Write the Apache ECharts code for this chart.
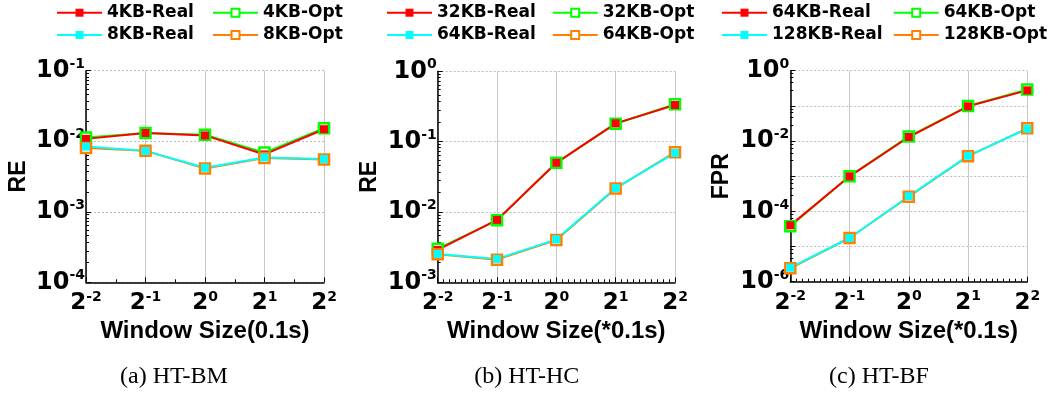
<!DOCTYPE html>
<html><head><meta charset="utf-8">
<script src="https://cdn.jsdelivr.net/npm/echarts@6/dist/echarts.min.js"></script>
<style>html,body{margin:0;padding:0;background:#fff}#c{width:1051px;height:393px}</style>
</head><body><div id="c"></div>
<script>
// x positions: exponent of 2 for window size
const windowExp = [-2, -1, 0, 1, 2];

// (a) HT-BM
const a4Real = [0.0108, 0.0131, 0.0121, 0.0065, 0.0148];
const a4Opt  = [0.0113, 0.0131, 0.0124, 0.0069, 0.0153];
const a8Real = [0.0084, 0.0073, 0.0042, 0.0059, 0.0056];
const a8Opt  = [0.0080, 0.0073, 0.0041, 0.0058, 0.0055];
// (b) HT-HC
const b32Real = [0.0029, 0.0077, 0.050, 0.182, 0.332];
const b32Opt  = [0.0030, 0.0076, 0.050, 0.180, 0.340];
const b64Real = [0.00253, 0.00215, 0.00408, 0.0219, 0.069];
const b64Opt  = [0.0025, 0.0021, 0.0040, 0.0216, 0.0707];
// (c) HT-BF
const c64Real  = [4.0e-5, 9.9e-4, 0.013, 0.097, 0.276];
const c64Opt   = [3.8e-5, 1.0e-3, 0.0135, 0.099, 0.294];
const c128Real = [2.5e-6, 1.75e-5, 2.7e-4, 0.0038, 0.0224];
const c128Opt  = [2.4e-6, 1.75e-5, 2.6e-4, 0.0037, 0.023];

const captions = ['(a) HT-BM', '(b) HT-HC', '(c) HT-BF'];
const yNames = ['RE', 'RE', 'FPR'];
const xNames = ['Window Size(0.1s)', 'Window Size(*0.1s)', 'Window Size(*0.1s)'];
const yMin = [1e-4, 1e-3, 1e-6];
const yMax = [1e-1, 1, 1];

const panels = [
  { key: 'a', real1: ['4KB-Real', a4Real], opt1: ['4KB-Opt', a4Opt], real2: ['8KB-Real', a8Real], opt2: ['8KB-Opt', a8Opt] },
  { key: 'b', real1: ['32KB-Real', b32Real], opt1: ['32KB-Opt', b32Opt], real2: ['64KB-Real', b64Real], opt2: ['64KB-Opt', b64Opt] },
  { key: 'c', real1: ['64KB-Real', c64Real], opt1: ['64KB-Opt', c64Opt], real2: ['128KB-Real', c128Real], opt2: ['128KB-Opt', c128Opt] }
];

// layout
const grids = [
  { left: 86, top: 70.7, width: 238, height: 211.6 },
  { left: 437.7, top: 71.3, width: 237.3, height: 211 },
  { left: 790.3, top: 70.7, width: 237, height: 211 }
];
const legendLeft = [[56, 212], [386, 551.7], [721, 892.7]];
const captionX = [174, 526.7, 879];
const yNameGap = [56, 57, 57];
const xMinorSplit = [2, 10, 10];
const yMinorSplit = [10, 10, 5];

const RED = '#ff0000', GREEN = '#00ff00', CYAN = '#00ffff', ORANGE = '#ff8000';
const TICKFONT = 'DejaVu Sans';
const richTick = (size) => ({
  b: { fontFamily: TICKFONT, fontWeight: 'bold', fontSize: size, lineHeight: size + 3, color: '#000' },
  s: { fontFamily: TICKFONT, fontWeight: 'bold', fontSize: 14, lineHeight: 15, verticalAlign: 'top', color: '#000' }
});

const option = { animation: false, backgroundColor: '#fff', grid: [], xAxis: [], yAxis: [], series: [], legend: [], title: [] };

panels.forEach((p, i) => {
  option.grid.push(Object.assign({ containLabel: false }, grids[i]));
  option.xAxis.push({
    type: 'value', gridIndex: i, min: -2, max: 2, interval: 1,
    name: xNames[i], nameLocation: 'middle', nameGap: 36,
    nameTextStyle: { fontFamily: 'Liberation Sans, Arial', fontWeight: 'bold', fontSize: 24, color: '#000' },
    axisLine: { show: true, onZero: false, lineStyle: { color: '#000', width: 1.5 } },
    axisTick: { show: true, inside: true, length: 5, lineStyle: { color: '#000', width: 1 } },
    minorTick: { show: true, splitNumber: xMinorSplit[i], length: 3, lineStyle: { color: '#000', width: 1 } },
    splitLine: { show: true, lineStyle: { color: '#c8c8c8', width: 1, type: 'solid' } },
    axisLabel: {
      margin: 8,
      formatter: (v) => '{b|2}{s|' + Math.round(v) + '}',
      rich: richTick(23)
    }
  });
  option.yAxis.push({
    type: 'log', logBase: 10, gridIndex: i, min: yMin[i], max: yMax[i],
    name: yNames[i], nameLocation: 'middle', nameGap: yNameGap[i],
    nameTextStyle: { fontFamily: 'Liberation Sans, Arial', fontWeight: 'bold', fontSize: 23, color: '#000' },
    axisLine: { show: true, onZero: false, lineStyle: { color: '#000', width: 1.5 } },
    axisTick: { show: true, inside: true, length: 5, lineStyle: { color: '#000', width: 1 } },
    minorTick: { show: true, splitNumber: yMinorSplit[i], length: 3, lineStyle: { color: '#000', width: 1 } },
    splitLine: { show: true, lineStyle: { color: '#bdbdbd', width: 1, type: [2, 2] } },
    axisLabel: {
      margin: 1,
      formatter: (v) => {
        const e = Math.round(Math.log10(v));
        if (i === 2 && e % 2 !== 0) return '';
        return '{b|10}{s|' + e + '}';
      },
      rich: richTick(24)
    }
  });

  const mk = (pair, color, isOpt) => {
    const d = {
      name: p.key + '|' + pair[0], type: 'line', xAxisIndex: i, yAxisIndex: i,
      data: windowExp.map((x, k) => [x, pair[1][k]]),
      symbol: 'rect', clip: false,
      lineStyle: { color: color, width: 2 }
    };
    if (isOpt) {
      d.symbolSize = 10;
      d.itemStyle = { color: '#ffffff', borderColor: color, borderWidth: 2.5 };
    } else {
      d.symbolSize = 8;
      d.itemStyle = { color: color, borderWidth: 0 };
    }
    return d;
  };
  option.series.push(mk(p.opt1, GREEN, true));
  option.series.push(mk(p.real1, RED, false));
  option.series.push(mk(p.opt2, ORANGE, true));
  option.series.push(mk(p.real2, CYAN, false));

  const legendBase = {
    orient: 'vertical', top: 2.7, padding: 0, itemGap: 2.3, itemWidth: 45, itemHeight: 10,
    selectedMode: false,
    formatter: (n) => n.split('|')[1],
    textStyle: { fontFamily: 'DejaVu Sans', fontWeight: 'bold', fontSize: 17, lineHeight: 20, color: '#000' }
  };
  option.legend.push(Object.assign({}, legendBase, { left: legendLeft[i][0], data: [p.key + '|' + p.real1[0], p.key + '|' + p.real2[0]] }));
  option.legend.push(Object.assign({}, legendBase, { left: legendLeft[i][1], data: [p.key + '|' + p.opt1[0], p.key + '|' + p.opt2[0]] }));

  option.title.push({
    text: captions[i], left: captionX[i], top: 365, textAlign: 'center', padding: 0,
    textStyle: { fontFamily: 'Liberation Serif, Times New Roman', fontWeight: 'normal', fontSize: 24, color: '#000' }
  });
});

const chart = echarts.init(document.getElementById('c'), null, { renderer: 'canvas' });
chart.setOption(option);
</script>
</body></html>
